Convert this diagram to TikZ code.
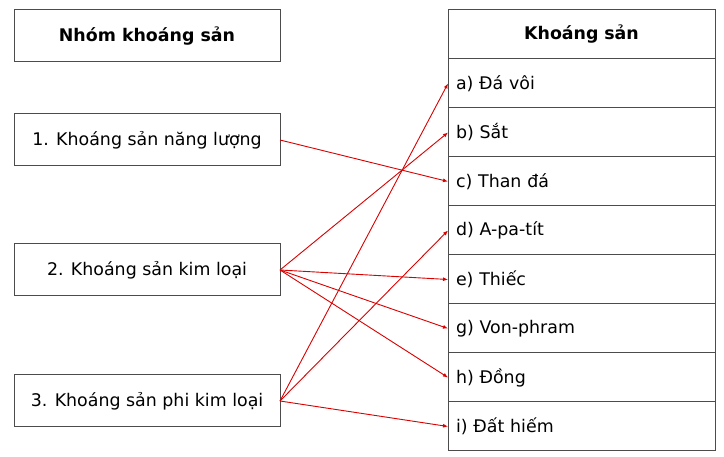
\documentclass[tikz,border=0pt]{standalone}
\usepackage{fontspec}
\setmainfont{DejaVu Sans}
\usetikzlibrary{positioning,arrows.meta}
\begin{document}
\begin{tikzpicture}
  [x=1pt,y=-1pt,every node/.style={draw=black!70,line width=1pt,rectangle,outer sep=0pt,font=\fontsize{17.4}{20}\selectfont}]
  \tikzstyle{group} = [minimum width=266pt,minimum height=52pt]
  \tikzstyle{item} = [minimum height=49pt,text width=251pt,inner xsep=8pt,align=left]
  \tikzstyle{link} = [red!85!black,line width=0.9pt,-{Latex[length=5pt,width=4pt]}]
  \useasboundingbox (0,0) rectangle (724,457);
  % left column
  \node[group,font=\fontsize{17.4}{20}\selectfont\bfseries] (g0) at (147,36) {Nhóm khoáng sản};
  \node[group] (g1) at (147,140) {1. Khoáng sản năng lượng};
  \node[group] (g2) at (147,270) {2. Khoáng sản kim loại};
  \node[group] (g3) at (147,401) {3. Khoáng sản phi kim loại};
  % right column
  \node[item,align=center,font=\fontsize{17.4}{20}\selectfont\bfseries] (head) at (581.5,34.5) {Khoáng sản};
  \foreach \name/\label [count=\k] in {ra/a) Đá vôi,rb/b) Sắt,rc/c) Than đá,rd/d) A-pa-tít,re/e) Thiếc,rg/g) Von-phram,rh/h) Đồng,ri/i) Đất hiếm}
    \node[item] (\name) at (581.5,34.5+49*\k) {\label};
  \foreach \source/\dest in {g1/rc,g2/rb,g2/re,g2/rg,g2/rh,g3/ra,g3/rd,g3/ri}
    \draw[link] (\source.east) -- (\dest.west);
\end{tikzpicture}
\end{document}
